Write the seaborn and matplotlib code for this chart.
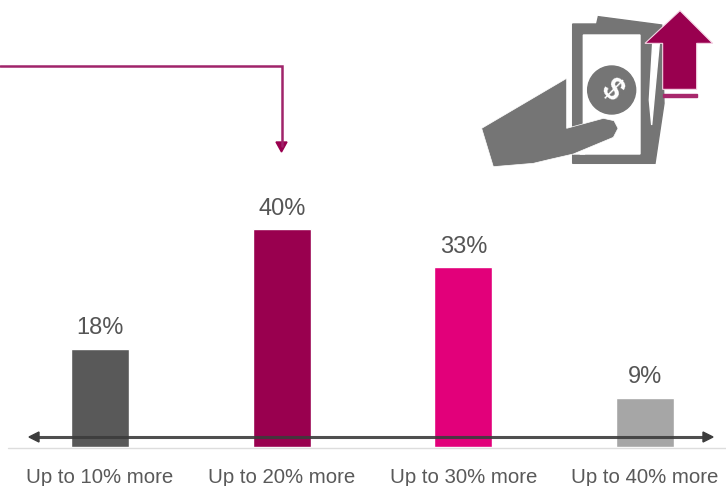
import matplotlib
matplotlib.use('Agg')
import matplotlib.pyplot as plt
from matplotlib.patches import Polygon, Circle, Rectangle
import seaborn as sns

# chart data
categories = ['Up to 10% more', 'Up to 20% more', 'Up to 30% more', 'Up to 40% more']
values = [18, 40, 33, 9]
colors = ['#595959', '#99004f', '#e2007a', '#a6a6a6']

sns.set_theme(style='white')
plt.rcParams['font.family'] = ['Liberation Sans', 'DejaVu Sans']

W, H = 726, 486
fig = plt.figure(figsize=(W / 100, H / 100), dpi=100)

# bars, scaled so the axes fill the whole picture
ax = fig.add_axes([0, 0, 1, 1])
sns.barplot(x=categories, y=values, hue=categories, palette=colors, width=0.32,
            legend=False, saturation=1, ax=ax)
step = 181.7
per_unit = 5.44
ax.set_xlim(-100 / step, (W - 100) / step)
ax.set_ylim(-(H - 447) / per_unit, 447 / per_unit)
sns.despine(ax=ax, left=True, bottom=True)
ax.set_yticks([])
ax.set_xticks([])
ax.set_xlabel('')
ax.patch.set_alpha(0)

for cont in ax.containers:
    ax.bar_label(cont, fmt='%d%%', padding=7, fontsize=17, color='#555555')

# pixel overlay for the rest
ov = fig.add_axes([0, 0, 1, 1], zorder=3)
ov.set_xlim(0, W)
ov.set_ylim(H, 0)
ov.axis('off')
ov.patch.set_alpha(0)

for i, c in enumerate(categories):
    ov.text(100 + i * step, 477, c, ha='center', va='center', fontsize=14.7, color='#595959')

# baseline and double arrow
ov.plot([8, W], [448, 448], color='#dddddd', lw=1)
ov.plot([36, 706], [437, 437], color='#3c3c3c', lw=2.2, alpha=0.9, solid_capstyle='butt')
ov.add_patch(Polygon([(29, 437), (39, 432), (39, 442)], color='#3c3c3c'))
ov.add_patch(Polygon([(713, 437), (703, 432), (703, 442)], color='#3c3c3c'))

# callout line
ov.plot([0, 282, 282], [66, 66, 146], color='#a0246a', lw=1.8, solid_joinstyle='miter')
ov.add_patch(Polygon([(276, 142), (287, 142), (281.5, 152)], color='#99004f'))


# icon, coordinates taken from a 3x crop
def z(pts):
    return [(470 + x / 3, y / 3) for x, y in pts]


gray = '#757575'
ov.add_patch(Polygon(z([(385, 50), (575, 75), (582, 310), (555, 490), (308, 490), (308, 72), (380, 72)]), color=gray))
ov.add_patch(Polygon(z([(340, 105), (510, 105), (510, 462), (330, 462), (340, 400)]), color='white'))
ov.add_patch(Polygon(z([(548, 130), (568, 130), (545, 375), (538, 300)]), color='white'))
ov.add_patch(Circle((470 + 425 / 3, 270 / 3), 72 / 3, color=gray))
ov.text(470 + 425 / 3, 270 / 3, '$', color='white', fontsize=22, fontweight='bold',
        rotation=-45, ha='center', va='center')
ov.add_patch(Polygon(z([(290, 380), (345, 462), (310, 462), (270, 385)]), color='white'))
ov.add_patch(Polygon(z([(35, 385), (290, 235), (290, 385), (400, 355), (432, 362), (444, 385), (430, 412),
                        (310, 462), (240, 478), (190, 490), (70, 500)]), color=gray, ec='white', lw=0.5))
ov.add_patch(Polygon(z([(630, 32), (728, 130), (680, 130), (680, 268), (578, 268), (578, 130), (525, 130)]),
                     fc='#99004f', ec='#f5d5e5', lw=0.8))
ov.add_patch(Rectangle((470 + 578 / 3, 282 / 3), 104 / 3, 8 / 3, color='#a8286c'))

fig.savefig('out.png', dpi=100)
